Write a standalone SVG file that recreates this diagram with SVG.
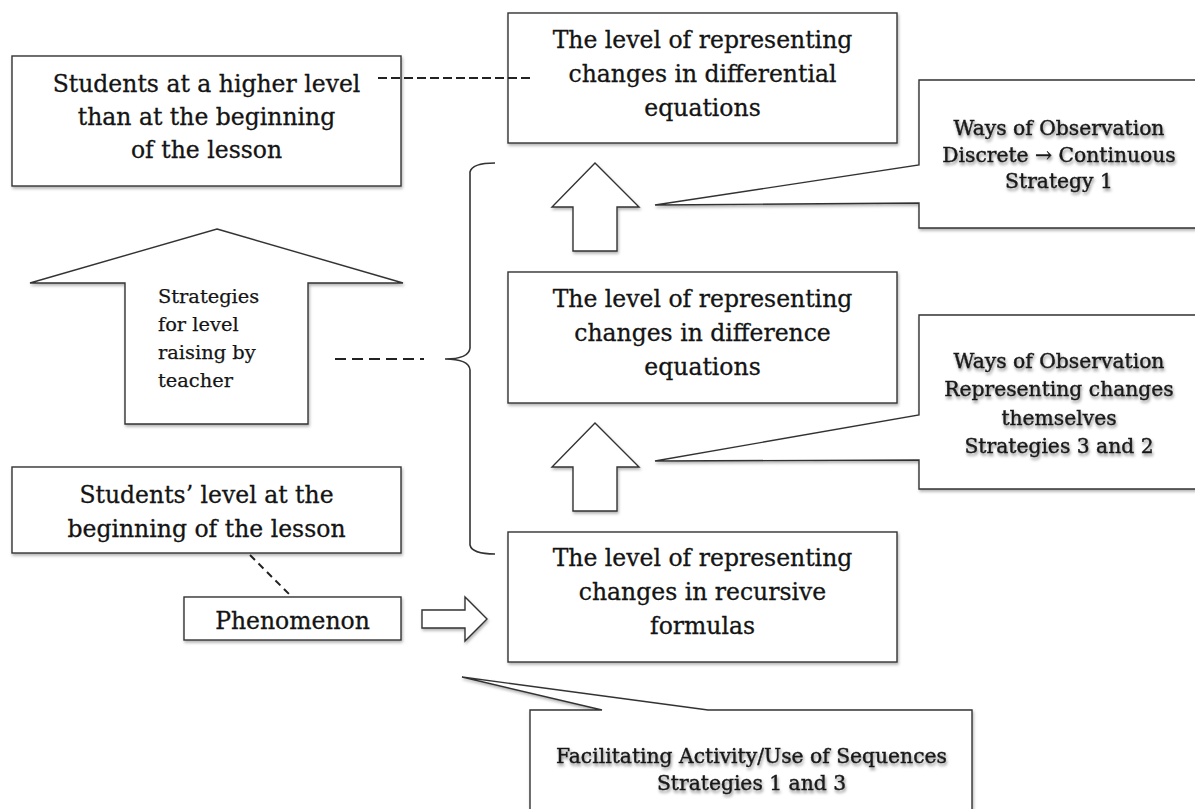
<svg xmlns="http://www.w3.org/2000/svg" width="1195" height="809" viewBox="0 0 1195 809">
<defs>
<style>
.shape{fill:#fff;stroke:#333;stroke-width:1.4;}
.t{font-family:"DejaVu Serif","Liberation Serif",serif;font-size:23.5px;fill:#141414;stroke:#141414;stroke-width:0.3;text-anchor:middle;}
.ts{font-family:"DejaVu Serif","Liberation Serif",serif;font-size:20.3px;fill:#1a1a1a;stroke:#1a1a1a;stroke-width:0.4;text-anchor:middle;}
.tl{font-family:"DejaVu Serif","Liberation Serif",serif;font-size:19.4px;fill:#141414;stroke:#141414;stroke-width:0.25;}
.dash{fill:none;stroke:#222;stroke-width:2;}
.brace{fill:none;stroke:#333;stroke-width:1.6;}
</style>
<filter id="sh" x="-10%" y="-10%" width="130%" height="130%">
<feDropShadow dx="1" dy="2" stdDeviation="1.5" flood-color="#000" flood-opacity="0.3"/>
</filter>
<filter id="tsh" x="-10%" y="-30%" width="120%" height="170%">
<feDropShadow dx="1" dy="2.5" stdDeviation="1.6" flood-color="#000" flood-opacity="0.45"/>
</filter>
</defs>
<rect width="1195" height="809" fill="#fff"/>

<g id="top-left-box">
<rect class="shape" x="12" y="56" width="389" height="130" filter="url(#sh)"/>
<text class="t" x="206.5" y="92">Students at a higher level</text>
<text class="t" x="206.5" y="125">than at the beginning</text>
<text class="t" x="206.5" y="158">of the lesson</text>
</g>

<g id="box-differential">
<rect class="shape" x="508" y="13" width="389" height="130" filter="url(#sh)"/>
<text class="t" x="702.5" y="48">The level of representing</text>
<text class="t" x="702.5" y="82">changes in differential</text>
<text class="t" x="702.5" y="116">equations</text>
</g>

<g id="box-difference">
<rect class="shape" x="508" y="272" width="389" height="131" filter="url(#sh)"/>
<text class="t" x="702.5" y="307">The level of representing</text>
<text class="t" x="702.5" y="341">changes in difference</text>
<text class="t" x="702.5" y="375">equations</text>
</g>

<g id="box-recursive">
<rect class="shape" x="508" y="532" width="389" height="130" filter="url(#sh)"/>
<text class="t" x="702.5" y="566">The level of representing</text>
<text class="t" x="702.5" y="600">changes in recursive</text>
<text class="t" x="702.5" y="634">formulas</text>
</g>

<g id="arrow-up-1">
<polygon class="shape" points="595,163 639,207 617,207 617,251 573,251 573,207 552,207" filter="url(#sh)"/>
</g>
<g id="arrow-up-2">
<polygon class="shape" points="595,423 639,467 617,467 617,511 573,511 573,467 552,467" filter="url(#sh)"/>
</g>

<g id="big-arrow">
<polygon class="shape" points="217,229 403,283 308,283 308,424 125,424 125,283 30,283" filter="url(#sh)"/>
<text class="tl" x="158" y="303">Strategies</text>
<text class="tl" x="158" y="331">for level</text>
<text class="tl" x="158" y="359">raising by</text>
<text class="tl" x="158" y="387">teacher</text>
</g>

<g id="callout-1">
<path class="shape" d="M919 80 H1200 V228 H919 V203 L655 205 L919 165 Z" filter="url(#sh)"/>
<g filter="url(#tsh)">
<text class="ts" x="1059" y="135">Ways of Observation</text>
<text class="ts" x="1059" y="162">Discrete → Continuous</text>
<text class="ts" x="1059" y="188">Strategy 1</text>
</g>
</g>

<g id="callout-2">
<path class="shape" d="M919 315 H1200 V489 H919 V460 L655 461 L919 415 Z" filter="url(#sh)"/>
<g filter="url(#tsh)">
<text class="ts" x="1059" y="368">Ways of Observation</text>
<text class="ts" x="1059" y="396">Representing changes</text>
<text class="ts" x="1059" y="425">themselves</text>
<text class="ts" x="1059" y="453">Strategies 3 and 2</text>
</g>
</g>

<g id="start-box">
<rect class="shape" x="12" y="467" width="389" height="86" filter="url(#sh)"/>
<text class="t" x="206.5" y="503">Students’ level at the</text>
<text class="t" x="206.5" y="537">beginning of the lesson</text>
</g>

<g id="phenomenon">
<rect class="shape" x="184" y="597" width="217" height="43" filter="url(#sh)"/>
<text class="t" x="292.5" y="629">Phenomenon</text>
</g>

<g id="arrow-right">
<polygon class="shape" points="422,610 465,610 465,597 487,619 465,641 465,628 422,628" filter="url(#sh)"/>
</g>

<g id="callout-3">
<path class="shape" d="M530 815 V710 H602 L462 677 L708 710 H972 V815" filter="url(#sh)"/>
<g filter="url(#tsh)">
<text class="ts" x="751.5" y="763">Facilitating Activity/Use of Sequences</text>
<text class="ts" x="751.5" y="790">Strategies 1 and 3</text>
</g>
</g>

<g id="connectors">
<line class="dash" x1="378" y1="78" x2="532" y2="78" stroke-dasharray="9 4"/>
<line class="dash" x1="335" y1="359" x2="424" y2="359" stroke-dasharray="11 6"/>
<line class="dash" x1="250" y1="555" x2="292" y2="597" stroke-dasharray="7 5"/>
<path class="brace" d="M495 163 Q472 163 470 172 L470 348 Q469 359 445 359 Q469 359 470 370 L470 545 Q472 554 495 554"/>
</g>
</svg>
